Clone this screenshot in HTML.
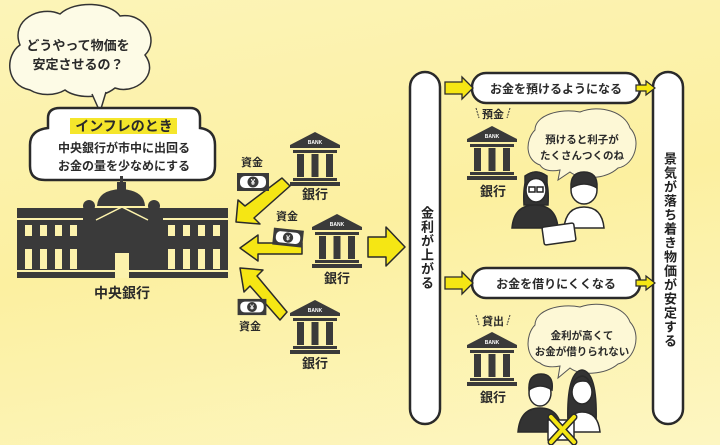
<!DOCTYPE html>
<html><head><meta charset="utf-8">
<style>
html,body{margin:0;padding:0}
body{width:720px;height:445px;overflow:hidden;position:relative;
background:linear-gradient(170deg,#fcf4b8 0%,#fcf0a0 50%,#fdf6c2 100%);
font-family:"Liberation Sans","Noto Sans CJK JP",sans-serif;font-weight:bold;color:#222}
svg{position:absolute;left:0;top:0}
.t{font-family:"Liberation Sans","Noto Sans CJK JP",sans-serif;font-weight:bold;fill:#2a2a2a}
.v{position:absolute;writing-mode:vertical-rl;font-weight:bold;font-size:13px;color:#222;letter-spacing:1px}
</style></head><body>
<svg width="720" height="445" viewBox="0 0 720 445">
<defs>
<symbol id="bank" viewBox="0 0 50 55">
<path d="M25 0 L50 13 L50 16 L0 16 L0 13 Z" fill="#3a3a3a"/>
<text x="25" y="12" font-size="5" fill="#fff" text-anchor="middle" font-family="Liberation Sans" font-weight="bold">BANK</text>
<rect x="3" y="18" width="44" height="3" fill="#3a3a3a"/>
<rect x="7" y="22" width="7" height="23" fill="#3a3a3a"/>
<rect x="21.5" y="22" width="7" height="23" fill="#3a3a3a"/>
<rect x="36" y="22" width="7" height="23" fill="#3a3a3a"/>
<rect x="3" y="46" width="44" height="3" fill="#3a3a3a"/>
<rect x="0" y="50" width="50" height="4" fill="#3a3a3a"/>
</symbol>
<symbol id="bill" viewBox="0 0 34 20">
<rect x="1" y="1" width="32" height="18" fill="#3a3a3a"/>
<rect x="4" y="4" width="26" height="12" rx="5" fill="#fff"/>
<circle cx="17" cy="10" r="5.5" fill="#3a3a3a"/>
<text x="17" y="13" font-size="8" text-anchor="middle" fill="#fff" font-family="Liberation Sans" font-weight="bold">¥</text>
</symbol>
</defs>

<!-- top cloud -->
<path d="M30 90 C5 85 5 55 20 45 C10 20 40 5 60 14 C75 0 110 2 120 16 C145 12 160 40 145 55 C160 75 135 95 115 88 C100 100 75 98 65 90 C55 96 40 96 30 90 Z" fill="#fdfbe6" stroke="#333" stroke-width="1.5"/>
<path d="M92 94 L100 112 L106 92" fill="#fdfbe6" stroke="#333" stroke-width="1.5"/>
<text class="t" x="78" y="50" font-size="13" text-anchor="middle">どうやって物価を</text>
<text class="t" x="78" y="69" font-size="13" text-anchor="middle">安定させるの？</text>

<!-- rounded bubble -->
<path d="M60 108 L190 108 Q200 108 200 118 L200 128 Q215 130 215 145 L215 166 Q215 180 200 180 L45 180 Q30 180 30 166 L30 145 Q30 130 48 128 L48 118 Q48 108 60 108 Z" fill="#fff" stroke="#2a2a2a" stroke-width="2.5"/>
<rect x="70" y="118" width="107" height="16" fill="#f5e62b"/>
<text class="t" x="124" y="131" font-size="14" text-anchor="middle">インフレのとき</text>
<text class="t" x="124" y="152" font-size="12" text-anchor="middle">中央銀行が市中に出回る</text>
<text class="t" x="124" y="170" font-size="12" text-anchor="middle">お金の量を少なめにする</text>

<!-- central bank building -->
<g fill="#3a3a3a">
<rect x="120" y="176" width="3" height="6"/>
<rect x="117" y="182" width="9" height="8"/>
<path d="M97 206 Q98 190 121 189 Q144 190 145 206 Z"/>
<circle cx="89" cy="206" r="6"/><circle cx="154" cy="206" r="6"/>
<rect x="17" y="208" width="211" height="70"/>
</g>
<g fill="#fcf2ac">
<rect x="17" y="218" width="66" height="2"/><rect x="163" y="218" width="65" height="2"/>
<rect x="25" y="225" width="7" height="11"/><rect x="40" y="225" width="7" height="11"/><rect x="55" y="225" width="7" height="11"/><rect x="70" y="225" width="7" height="11"/>
<rect x="168" y="225" width="7" height="11"/><rect x="183" y="225" width="7" height="11"/><rect x="198" y="225" width="7" height="11"/><rect x="213" y="225" width="7" height="11"/>
<rect x="25" y="249" width="7" height="20"/><rect x="40" y="249" width="7" height="20"/><rect x="55" y="249" width="7" height="20"/><rect x="70" y="249" width="7" height="20"/>
<rect x="168" y="249" width="7" height="20"/><rect x="183" y="249" width="7" height="20"/><rect x="198" y="249" width="7" height="20"/><rect x="213" y="249" width="7" height="20"/>
<rect x="115" y="253" width="14" height="25"/>
<rect x="17" y="270" width="211" height="2"/>
</g>
<path d="M96 220 L122 207 L148 220" fill="none" stroke="#fcf2ac" stroke-width="1.5"/>
<text class="t" x="122" y="298" font-size="14" text-anchor="middle">中央銀行</text>

<!-- banks left -->
<use href="#bank" x="290" y="132" width="50" height="55"/>
<text class="t" x="315" y="199" font-size="13" text-anchor="middle">銀行</text>
<use href="#bank" x="312" y="214" width="50" height="55"/>
<text class="t" x="337" y="283" font-size="13" text-anchor="middle">銀行</text>
<use href="#bank" x="290" y="300" width="50" height="55"/>
<text class="t" x="315" y="368" font-size="13" text-anchor="middle">銀行</text>

<!-- yellow arrows -->
<g fill="#f5e614" stroke="#2a2a2a" stroke-width="1.5" stroke-linejoin="round">
<path d="M282 178 L290 186 L254 218 L260 224 L236 222 L238 200 L245 206 Z"/>
<path d="M302 243 L302 254 L258 254 L258 261 L240 248 L258 235 L258 243 Z"/>
<path d="M287 312 L280 320 L250 286 L244 292 L240 268 L263 270 L257 276 Z"/>
<path d="M368 237 L386 237 L386 227 L405 247 L386 266 L386 257 L368 257 Z"/>
</g>
<text class="t" x="252" y="166" font-size="11" text-anchor="middle">資金</text>
<use href="#bill" x="236" y="172" width="34" height="20"/>
<text class="t" x="287" y="220" font-size="11" text-anchor="middle">資金</text>
<g transform="rotate(6 287 238)"><use href="#bill" x="272" y="228" width="32" height="19"/></g>
<use href="#bill" x="236" y="298" width="32" height="18"/>
<text class="t" x="250" y="330" font-size="11" text-anchor="middle">資金</text>

<!-- pills -->
<rect x="410" y="72" width="30" height="352" rx="15" fill="#fff" stroke="#2a2a2a" stroke-width="2.5"/>
<rect x="653" y="72" width="30" height="352" rx="15" fill="#fff" stroke="#2a2a2a" stroke-width="2.5"/>

<!-- top row -->
<rect x="472" y="73" width="168" height="30" rx="14" fill="#fff" stroke="#2a2a2a" stroke-width="2.5"/>
<text class="t" x="556" y="93" font-size="12" text-anchor="middle">お金を預けるようになる</text>
<path d="M445 82 L462 82 L462 77 L473 88 L462 99 L462 94 L445 94 Z" fill="#f5e614" stroke="#2a2a2a" stroke-width="1.3"/>
<path d="M636 85 L646 85 L646 81 L655 88 L646 95 L646 91 L636 91 Z" fill="#f5e614" stroke="#2a2a2a" stroke-width="1.2"/>
<!-- bottom row -->
<rect x="472" y="268" width="168" height="30" rx="14" fill="#fff" stroke="#2a2a2a" stroke-width="2.5"/>
<text class="t" x="556" y="288" font-size="12" text-anchor="middle">お金を借りにくくなる</text>
<path d="M445 277 L462 277 L462 272 L473 283 L462 294 L462 289 L445 289 Z" fill="#f5e614" stroke="#2a2a2a" stroke-width="1.3"/>
<path d="M636 280 L646 280 L646 276 L655 283 L646 290 L646 286 L636 286 Z" fill="#f5e614" stroke="#2a2a2a" stroke-width="1.2"/>

<!-- panel banks -->
<text class="t" x="493" y="118" font-size="11" text-anchor="middle">預金</text>
<path d="M476 108 L479 118 M510 108 L507 118" stroke="#333" stroke-width="1" stroke-dasharray="2 1"/>
<use href="#bank" x="467" y="126" width="50" height="55"/>
<text class="t" x="493" y="196" font-size="13" text-anchor="middle">銀行</text>
<text class="t" x="493" y="325" font-size="11" text-anchor="middle">貸出</text>
<path d="M476 315 L479 325 M510 315 L507 325" stroke="#333" stroke-width="1" stroke-dasharray="2 1"/>
<use href="#bank" x="467" y="332" width="50" height="55"/>
<text class="t" x="493" y="402" font-size="13" text-anchor="middle">銀行</text>

<!-- thought clouds -->
<path d="M540 165 C525 160 525 140 535 130 C535 115 560 108 580 112 C600 104 625 112 630 128 C642 140 635 165 618 168 C605 180 580 180 570 172 L558 180 L560 170 C550 172 543 170 540 165 Z" fill="#fdf8d6" stroke="#555" stroke-width="1"/>
<text class="t" x="582" y="143" font-size="10.5" text-anchor="middle">預けると利子が</text>
<text class="t" x="582" y="159" font-size="10.5" text-anchor="middle">たくさんつくのね</text>
<path d="M540 363 C525 358 525 335 535 325 C535 310 560 303 580 307 C600 300 625 307 630 322 C642 335 635 360 618 364 C605 375 580 376 570 368 L558 378 L560 366 C550 368 543 366 540 363 Z" fill="#fdf8d6" stroke="#555" stroke-width="1"/>
<text class="t" x="582" y="339" font-size="10.5" text-anchor="middle">金利が高くて</text>
<text class="t" x="582" y="355" font-size="10.5" text-anchor="middle">お金が借りられない</text>

<!-- people top -->
<g stroke="#2a2a2a" stroke-width="1.5">
<path d="M524 205 Q522 172 536 172 Q550 172 548 205 Z" fill="#333"/>
<path d="M512 228 Q514 205 535 205 Q556 205 558 228 Z" fill="#333"/>
<ellipse cx="536" cy="190" rx="10" ry="12" fill="#fff"/>
<path d="M525 185 Q536 172 547 185 L547 176 Q536 168 525 176 Z" fill="#333"/>
<path d="M564 228 Q566 207 584 207 Q602 207 604 228 Z" fill="#fff"/>
<ellipse cx="584" cy="190" rx="13" ry="14" fill="#fff"/>
<path d="M571 188 Q570 172 584 172 Q598 172 597 188 Q584 180 571 188 Z" fill="#333"/>
<rect x="543" y="225" width="32" height="18" rx="2" fill="#fff" transform="rotate(-8 559 234)"/>
</g>
<rect x="529" y="187" width="6" height="5" fill="none" stroke="#222" stroke-width="1.5"/>
<rect x="537" y="187" width="6" height="5" fill="none" stroke="#222" stroke-width="1.5"/>

<!-- people bottom -->
<g stroke="#2a2a2a" stroke-width="1.5">
<path d="M518 432 Q520 408 540 408 Q560 408 562 432 Z" fill="#333"/>
<ellipse cx="540" cy="393" rx="11" ry="13" fill="#fff"/>
<path d="M529 390 Q528 374 541 374 Q554 374 552 390 Q540 382 529 390 Z" fill="#333"/>
<path d="M568 425 Q566 372 582 370 Q598 372 596 425 Z" fill="#333"/>
<path d="M566 432 Q568 412 582 412 Q598 412 600 432 Z" fill="#fff"/>
<ellipse cx="582" cy="392" rx="10" ry="12" fill="#fff"/>
<path d="M572 390 Q574 378 590 382 Q586 376 582 376 Q572 378 572 390 Z" fill="#333"/>
<rect x="548" y="420" width="26" height="20" fill="#fff"/>
</g>
<path d="M551 417 L574 442 M574 417 L551 442" stroke="#2a2a2a" stroke-width="7" stroke-linecap="round"/>
<path d="M551 417 L574 442 M574 417 L551 442" stroke="#f5e614" stroke-width="4" stroke-linecap="round"/>
</svg>
<div class="v" style="left:417px;top:206px;">金利が上がる</div>
<div class="v" style="left:660px;top:152px;">景気が落ち着き物価が安定する</div>
</body></html>
